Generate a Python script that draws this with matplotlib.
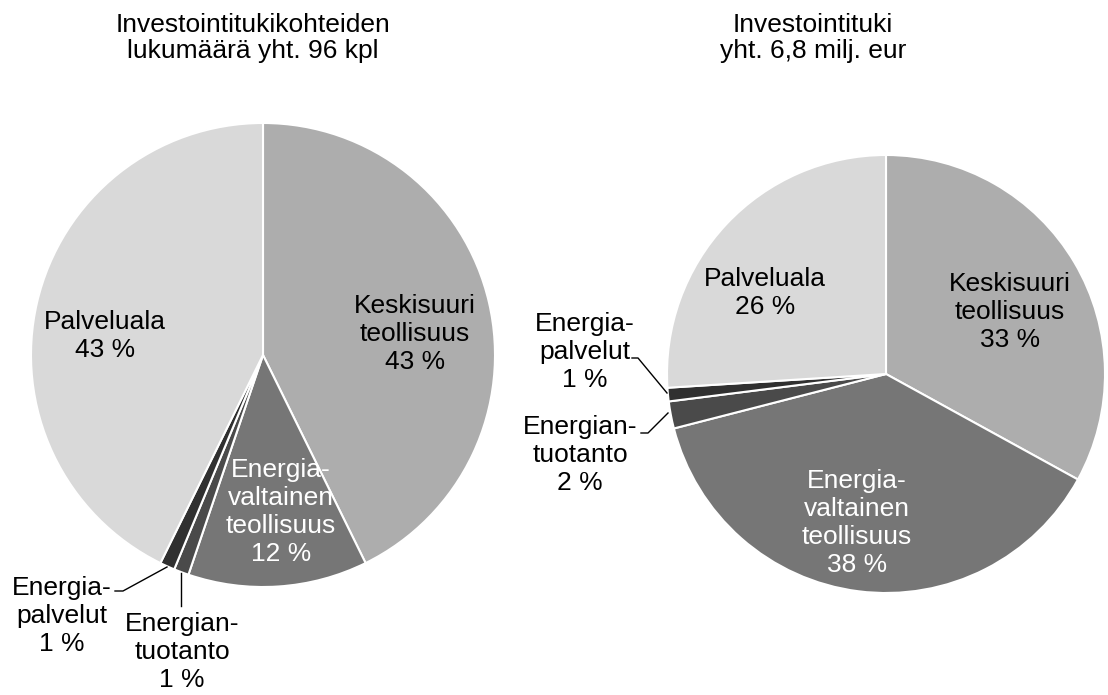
import matplotlib
matplotlib.use("Agg")
from matplotlib import pyplot as plt

plt.rcParams['font.family'] = ['Liberation Sans', 'DejaVu Sans']

# data
sektorit = ["Keskisuuri teollisuus", "Energiavaltainen teollisuus",
            "Energiantuotanto", "Energiapalvelut", "Palveluala"]
kohteet_kpl = [41, 12, 1, 1, 41]          # yht. 96 kpl
kohteet_pct = [43, 12, 1, 1, 43]
tuki_pct = [33, 38, 2, 1, 26]              # yht. 6,8 milj. eur
otsikot = ["Investointitukikohteiden\nlukumäärä yht. 96 kpl",
           "Investointituki\nyht. 6,8 milj. eur"]
nimet = ["Keskisuuri\nteollisuus", "Energia-\nvaltainen\nteollisuus",
         "Energian-\ntuotanto", "Energia-\npalvelut", "Palveluala"]

varit = ["#adadad", "#767676", "#4a4a4a", "#303030", "#d9d9d9"]
tekstivari = ["black", "white", "black", "black", "black"]

W, H = 1108, 695
fig = plt.figure(figsize=(W / 100, H / 100), dpi=100)
ax = fig.add_axes([0, 0, 1, 1])

def py(y):
    return H - y

# pie layout (pixel coords)
piirakat = [
    dict(arvot=kohteet_kpl, pct=kohteet_pct, c=(263, 355), r=232, otsikko_x=253,
         pos=[(415, 334), (281, 512), (182, 652), (62, 616), (105, 336)],
         viivat={2: [(181, 573), (181, 606)],
                 3: [(167, 567), (123, 591), (115, 591)]}),
    dict(arvot=tuki_pct, pct=tuki_pct, c=(886, 374), r=219, otsikko_x=813,
         pos=[(1010, 312), (857, 523), (580, 455), (585, 352), (765, 293)],
         viivat={2: [(668, 413), (648, 433), (641, 433)],
                 3: [(667, 393), (638, 358), (632, 358)]}),
]

for i, p in enumerate(piirakat):
    ax.pie(p["arvot"], colors=varit, startangle=90, counterclock=False,
           center=(p["c"][0], py(p["c"][1])), radius=p["r"],
           wedgeprops=dict(edgecolor="white", linewidth=1.5), frame=True)
    ax.text(p["otsikko_x"], py(38), otsikot[i], ha="center", va="center",
            fontsize=19, linespacing=1.12)
    for j, (x, y) in enumerate(p["pos"]):
        ax.text(x, py(y), f"{nimet[j]}\n{p['pct'][j]} %", ha="center",
                va="center", fontsize=19, linespacing=1.2, color=tekstivari[j])
    for k, pts in p["viivat"].items():
        ax.plot([q[0] for q in pts], [py(q[1]) for q in pts],
                color="black", linewidth=1)

ax.set_xlim(0, W)
ax.set_ylim(0, H)
ax.set_aspect("equal")
ax.axis("off")
fig.savefig("out.png", dpi=100)
